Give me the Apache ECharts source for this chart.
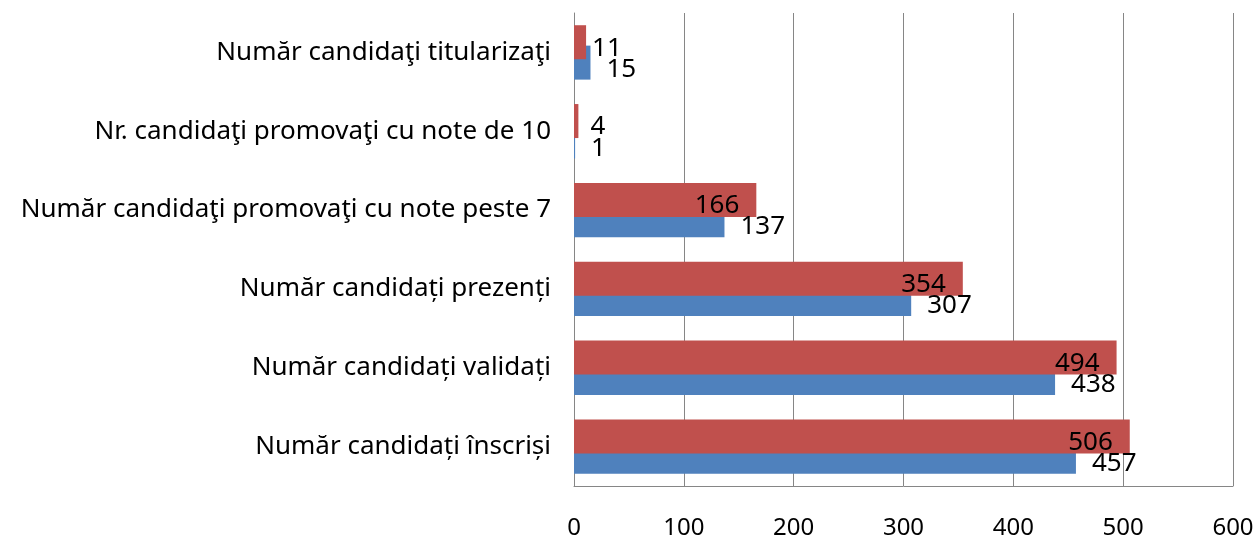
<!DOCTYPE html>
<html>
<head>
<meta charset="utf-8">
<script src="https://cdn.jsdelivr.net/npm/echarts@6/dist/echarts.min.js"></script>
<style>
  html, body { margin: 0; padding: 0; background: #fff; }
  #chart { width: 1257px; height: 540px; }
</style>
</head>
<body>
<div id="chart"></div>
<script>
// categories bottom -> top (category axis starts at the bottom)
const categories = [
  "Număr candidați înscriși",
  "Număr candidați validați",
  "Număr candidați prezenți",
  "Număr candidaţi promovaţi cu note peste 7",
  "Nr. candidaţi promovaţi cu note de 10",
  "Număr candidaţi titularizaţi"
];
const blueValues = [457, 438, 307, 137, 1, 15];
const redValues = [506, 494, 354, 166, 4, 11];
const xTicks = [0, 100, 200, 300, 400, 500, 600];

const FONT = "'Noto Sans', sans-serif";
const GRID_GRAY = "#868686";

// red labels sit inside the bar end, except where the bar is too short
function redData() {
  return redValues.map((v) => {
    if (v < 50) {
      return { value: v, label: { position: "right", distance: v < 5 ? 12 : 6 } };
    }
    return v;
  });
}

const chart = echarts.init(document.getElementById("chart"));
chart.setOption({
  animation: false,
  grid: { left: 574, right: 24, top: 13, bottom: 52, containLabel: false },
  xAxis: {
    type: "value",
    min: xTicks[0],
    max: xTicks[xTicks.length - 1],
    interval: 100,
    axisLine: { show: true, lineStyle: { color: GRID_GRAY, width: 1 } },
    axisTick: { show: false },
    splitLine: { show: true, lineStyle: { color: GRID_GRAY, width: 1 } },
    axisLabel: { color: "#000", fontFamily: FONT, fontSize: 24, margin: 30 }
  },
  yAxis: {
    type: "category",
    data: categories,
    axisLine: { show: true, lineStyle: { color: GRID_GRAY, width: 1 } },
    axisTick: { show: false },
    axisLabel: { color: "#000", fontFamily: FONT, fontSize: 26, margin: 23 }
  },
  series: [
    {
      name: "red",
      type: "bar",
      data: redData(),
      barWidth: 34,
      barGap: "-40%",
      itemStyle: { color: "#C0504D" },
      z: 3,
      label: {
        show: true,
        position: "insideRight",
        distance: 17,
        color: "#000",
        fontFamily: FONT,
        fontSize: 26,
        offset: [0, 6]
      }
    },
    {
      name: "blue",
      type: "bar",
      data: blueValues,
      barWidth: 34,
      barGap: "-40%",
      itemStyle: { color: "#4F81BD" },
      z: 2
    },
    {
      // blue value labels, drawn above the red bars
      name: "blueLabels",
      type: "scatter",
      data: blueValues.map((v, i) => [v, i]),
      symbolSize: 0,
      itemStyle: { opacity: 1 },
      z: 5,
      silent: true,
      label: {
        show: true,
        position: "right",
        distance: 16,
        color: "#000",
        fontFamily: FONT,
        fontSize: 26,
        offset: [0, 17],
        formatter: (p) => p.value[0]
      }
    }
  ]
});
</script>
</body>
</html>
